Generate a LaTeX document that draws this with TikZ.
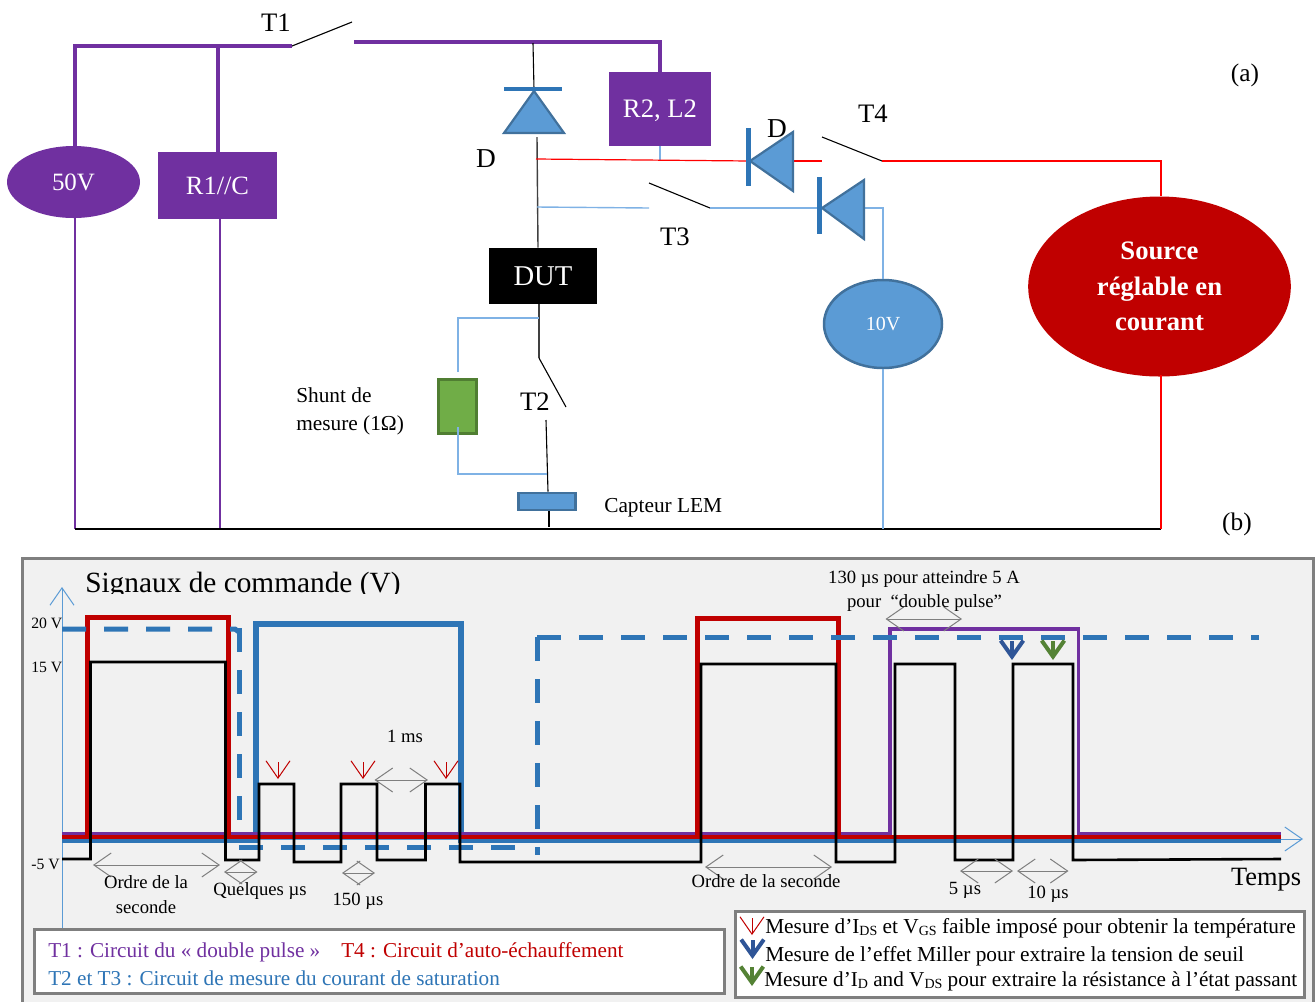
\documentclass[tikz,border=0pt]{standalone}
\usepackage{fontspec}
\setmainfont{Liberation Serif}
\usetikzlibrary{arrows.meta,shapes.geometric}
\definecolor{cpurple}{HTML}{7030A0}
\definecolor{cred}{HTML}{C00000}
\definecolor{cblue}{HTML}{2E75B6}
\definecolor{clight}{HTML}{5B9BD5}
\definecolor{cwire}{HTML}{7FB2E5}
\definecolor{cedge}{HTML}{41719C}
\definecolor{cgreen}{HTML}{70AD47}
\definecolor{cgreenD}{HTML}{507E32}
\definecolor{cmiller}{HTML}{2F5597}
\definecolor{cmeas}{HTML}{548235}
\definecolor{cgray}{HTML}{7F7F7F}
\newcommand{\fs}[1]{\fontsize{#1}{#1}\selectfont}
\newcommand{\sbs}[1]{\raisebox{-0.25ex}{\fs{10.5}#1}}
\tikzset{
  px/.style={line width=#1*0.75pt},
  blk/.style={draw=black,px=1.1},
  pwire/.style={draw=cpurple,px=4},
  pthin/.style={draw=cpurple,px=1.2},
  rwire/.style={draw=red,px=1.2},
  bwire/.style={draw=cwire,px=1.4},
  bar/.style={draw=cblue,px=4.5},
  tri/.style={draw=cedge,fill=clight,px=2.2,line join=miter},
  fillbox/.style={draw=none,inner sep=0pt,text=white},
  lab/.style={inner sep=0pt,anchor=base},
  labw/.style={inner sep=0pt,anchor=base west},
  ann/.style={lab,font=\fs{14}},
  tick/.style={labw,font=\fs{11.8}},
  dim/.style={draw=cgray,px=1,{Straight Barb[length=13pt,width=18pt]}-{Straight Barb[length=13pt,width=18pt]}},
  axis/.style={draw=clight,px=1,-{Straight Barb[length=13pt,width=18pt]}},
  sigred/.style={draw=cred,px=5,line join=miter},
  sigredlow/.style={draw=cred,px=3.8},
  sigblue/.style={draw=cblue,px=6,line join=miter},
  sigdash/.style={draw=cblue,px=5,dash pattern=on 18pt off 13.5pt},
  sigpur/.style={draw=cpurple,px=3.2,line join=miter},
  sigblk/.style={draw=black,px=2.6,line join=miter},
  measr/.style={draw=cred,px=1,-{Straight Barb[length=13pt,width=18pt]}},
  measb/.style={draw=cmiller,px=4,-{Straight Barb[length=12pt,width=17pt]}},
  measg/.style={draw=cmeas,px=4,-{Straight Barb[length=12pt,width=17pt]}},
  legbox/.style={draw=cgray,fill=white,px=3},
}
\begin{document}
\begin{tikzpicture}[x=0.75pt,y=-0.75pt]
\useasboundingbox (0,0) rectangle (1315,1001);
%% --- circuit nodes
\node[fillbox,ellipse,fill=cpurple,minimum width=99.75pt,minimum height=54pt,font=\fs{18.7}] (e50) at (73.5,182) {50V};
\node[fillbox,fill=cpurple,minimum width=89.25pt,minimum height=50.25pt,font=\fs{19.8}] (r1c) at (217.5,185.5) {R1//C};
\node[fillbox,fill=cpurple,minimum width=76.5pt,minimum height=55.5pt,text depth=0pt,font=\fs{20}] (r2l2) at (660,109) {R2, L2};
\node[fillbox,fill=black,minimum width=81pt,minimum height=42pt,font=\fs{21.5}] (dut) at (543,276) {DUT};
\node[draw=cedge,fill=clight,px=2.5,ellipse,inner sep=0pt,minimum width=88.5pt,minimum height=66pt,text=white,font=\fs{15}] (e10) at (883,324) {10V};
\node[fillbox,ellipse,fill=cred,minimum width=197pt,minimum height=135pt,font=\bfseries\fs{20},align=center] (src) at (1159.5,286.5) {Source\\[6.4pt]réglable en\\[6.4pt]courant};
\node[draw=cgreenD,fill=cgreen,px=3,inner sep=0pt,minimum width=29pt,minimum height=41pt] (shunt) at (457.5,406.5) {};
\node[draw=cedge,fill=clight,px=2.5,inner sep=0pt,minimum width=43pt,minimum height=13pt] (lem) at (547,501.5) {};
%% --- free ends of the wires
\coordinate (a1) at (75,46);    \coordinate (a2) at (218,46);
\coordinate (sw1a) at (292,46); \coordinate (sw1b) at (352,22);
\coordinate (b1) at (354,42);   \coordinate (b2) at (660,42);
\coordinate (dA) at (533,43);   \coordinate (dB) at (534,89);
\coordinate (dC) at (537,137);
\coordinate (rj) at (536,159);  \coordinate (rk) at (660,160);
\coordinate (d2k) at (750,161); \coordinate (d2a) at (793,161);
\coordinate (sw4a) at (822,137);\coordinate (sw4c) at (822,161);\coordinate (sw4b) at (882,161);
\coordinate (rc) at (1161,161);
\coordinate (tj) at (537,207);  \coordinate (sw3a) at (649,183);\coordinate (sw3c) at (649,208);\coordinate (sw3b) at (710,208);
\coordinate (d3k) at (822,208); \coordinate (d3a) at (864,208); \coordinate (bc) at (883,208);
\coordinate (sw2a) at (539,358);\coordinate (sw2b) at (566,407);\coordinate (sw2c) at (546,420);
\coordinate (s1) at (458,318);  \coordinate (s1j) at (539,318); \coordinate (s2) at (458,474); \coordinate (s2j) at (547,474);
\coordinate (gA) at (75,529);   \coordinate (gB) at (220,529);  \coordinate (gC) at (549,527);
\coordinate (gD) at (883,529);  \coordinate (gE) at (1161,529);
%% --- wires
\draw[pwire] (75,150) -- (a1) -- (sw1a);
\draw[pwire] (a2) -- (r1c.north -| a2);
\draw[blk] (sw1a) -- (sw1b);
\draw[pwire] (b1) -- (b2) -- (r2l2.north -| b2);
\draw[pthin] (75,214) -- (gA);
\draw[pthin] (220,219) -- (gB);
\draw[blk] (gA) -- (gE);
\draw[blk] (dA) -- (dB);
\draw[draw=black!75,px=1.4] (dC) -- (dut.north -| 538,0);
\draw[draw=black!75,px=1.6] (dut.south -| 539,0) -- (sw2a);
\draw[blk] (sw2a) -- (sw2b);
\draw[blk] (sw2c) -- (lem.north -| 548,0);
\draw[blk] (lem.south -| 549,0) -- (gC);
\draw[bwire] (458,372) -- (s1) -- (s1j);
\draw[bwire] (458,427) -- (s2) -- (s2j);
\draw[bwire] (r2l2.south -| rk) -- (rk);
\draw[rwire] (rj) -- (d2k);
\draw[rwire] (d2a) -- (sw4c);
\draw[blk] (sw4a) -- (sw4b);
\draw[rwire] (sw4b) -- (rc) -- (src.north -| rc);
\draw[rwire] (1161,375) -- (gE);
\draw[bwire] (tj) -- (sw3c);
\draw[blk] (sw3a) -- (sw3b);
\draw[bwire] (sw3b) -- (d3k);
\draw[bwire] (d3a) -- (bc) -- (e10.north);
\draw[bwire] (e10.south) -- (gD);
%% --- diodes
\draw[tri] (534,91) -- (504,133) -- (564,133) -- cycle;
\draw[bar] (504,89) -- (562,89);
\draw[tri] (d2k) -- (793,132) -- (793,191) -- cycle;
\draw[bar] (748.5,128) -- (748.5,186);
\draw[tri] (d3k) -- (864,180) -- (864,239) -- cycle;
\draw[bar] (819.5,177) -- (819.5,234);
%% --- circuit labels
\node[lab,font=\fs{20}] (t1) at (276,31) {T1};
\node[lab,font=\fs{20.5}] (d1) at (486,167) {D};
\node[lab,font=\fs{20.5}] (d2) at (777,137) {D};
\node[lab,font=\fs{20}] (t4) at (873,122) {T4};
\node[lab,font=\fs{20}] (t3) at (675,245) {T3};
\node[lab,font=\fs{20}] (t2) at (535,410) {T2};
\node[lab,font=\fs{19}] (la) at (1245,81) {(a)};
\node[lab,font=\fs{19}] (lb) at (1237,530) {(b)};
\node[labw,font=\fs{16}] (sh1) at (296,402) {Shunt de};
\node[labw,font=\fs{16}] (sh2) at (296,430) {mesure (1Ω)};
\node[labw,font=\fs{16}] (cap) at (604,512) {Capteur LEM};
%% --- lower panel
\draw[draw=cgray,fill=black!5.5,px=3] (22,558) rectangle (1313.5,1003);
\begin{scope}
\clip (60,560) rectangle (420,593);
\node[labw,font=\fs{22}] (title) at (85,592) {Signaux de commande (V)};
\end{scope}
\draw[axis] (62,928) -- (62,587);
\draw[axis] (62,839) -- (1303,839);
%% --- waveforms
\draw[sigblue] (62,840) -- (255.5,840) -- (255.5,624) -- (461,624) -- (461,840) -- (1281,840);
\draw[sigpur] (62,833.7) -- (890,833.7) -- (890,629) -- (1078.5,629) -- (1078.5,833.7) -- (1281,833.7);
\draw[sigredlow] (62,836.7) -- (1281,836.7);
\draw[sigred] (87.5,836) -- (87.5,617.5) -- (228,617.5) -- (228,836);
\draw[sigred] (697.5,836) -- (697.5,618.5) -- (838,618.5) -- (838,836);
\draw[sigdash] (62,629) -- (235,629) -- (239,632);
\draw[sigdash] (239,628) -- (239,820);
\draw[sigdash] (239,847) -- (516,847);
\draw[sigdash] (537,637) -- (1259,637);
\draw[sigdash] (537,637) -- (537,855);
\draw[sigblk] (62,859) -- (90.5,859) -- (90.5,662) -- (225.5,662) -- (225.5,860) -- (259,860) -- (259,784) -- (294,784) -- (294,862) -- (341,862) -- (341,784) -- (377,784) -- (377,860) -- (425.5,860) -- (425.5,784) -- (460,784) -- (460,862) -- (701,862) -- (701,664) -- (836,664) -- (836,862) -- (895,862) -- (895,664) -- (955,664) -- (955,860) -- (1013,860) -- (1013,664) -- (1073,664) -- (1073,860) -- (1281,859);
%% --- markers
\draw[measr] (278,762) -- (278,779);
\draw[measr] (363,762) -- (363,779);
\draw[measr] (446,762) -- (446,779);
\draw[measb] (1012,641) -- (1012,660);
\draw[measg] (1053,641) -- (1053,660);
%% --- dimension arrows
\draw[dim] (374.5,780) -- (428,780);
\draw[dim] (93,865) -- (220,865);
\draw[dim] (224,872) -- (257.5,872);
\draw[dim] (342,873) -- (375,873);
\draw[dim] (705,867) -- (832,867);
\draw[dim] (960,871) -- (1013,871);
\draw[dim] (1017,871) -- (1068.5,871);
\draw[dim] (885.5,619) -- (962,619);
%% --- panel labels
\node[tick] (v20) at (31,628) {20 V};
\node[tick] (v15) at (31,672) {15 V};
\node[tick] (v5) at (31,869) {-5 V};
\node[ann] (n1) at (405,742) {1 ms};
\node[ann] (n2) at (146,888) {Ordre de la};
\node[ann] (n3) at (146,913) {seconde};
\node[ann] (n4) at (260,895) {Quelques µs};
\node[ann] (n5) at (358,905) {150 µs};
\node[ann] (n6) at (766,887) {Ordre de la seconde};
\node[ann] (n7) at (965,894) {5 µs};
\node[ann] (n8) at (1048,898) {10 µs};
\node[lab,font=\fs{19.8}] (n9) at (1266,885) {Temps};
\node[ann] (n10) at (924,583) {130 µs pour atteindre 5 A};
\node[ann] (n11) at (924.5,607) {pour\ \ “double pulse”};
%% --- legends
\node[legbox,inner sep=0pt,minimum width=517.5pt,minimum height=48pt] (leg1) at (379.5,961) {};
\node[labw,font=\fs{15.9},text=cpurple] (l1) at (48,957) {T1 : Circuit du « double pulse »};
\node[labw,font=\fs{15.9},text=cred] (l2) at (341,957) {T4 : Circuit d’auto-échauffement};
\node[labw,font=\fs{15.9},text=cblue] (l3) at (48,985) {T2 et T3 : Circuit de mesure du courant de saturation};
\node[legbox,inner sep=0pt,minimum width=426.75pt,minimum height=64.5pt] (leg2) at (1020,954) {};
\draw[measr] (752,918) -- (752,935);
\draw[measb] (752.5,940) -- (752.5,959);
\draw[measg] (752,967) -- (752,986);
\node[labw,font=\fs{16}] (m1) at (765,933) {Mesure d’I\sbs{DS} et V\sbs{GS} faible imposé pour obtenir la température};
\node[labw,font=\fs{16}] (m2) at (765,961) {Mesure de l’effet Miller pour extraire la tension de seuil};
\node[labw,font=\fs{15.9}] (m3) at (764,986) {Mesure d’I\sbs{D} and V\sbs{DS} pour extraire la résistance à l’état passant};
\end{tikzpicture}
\end{document}
